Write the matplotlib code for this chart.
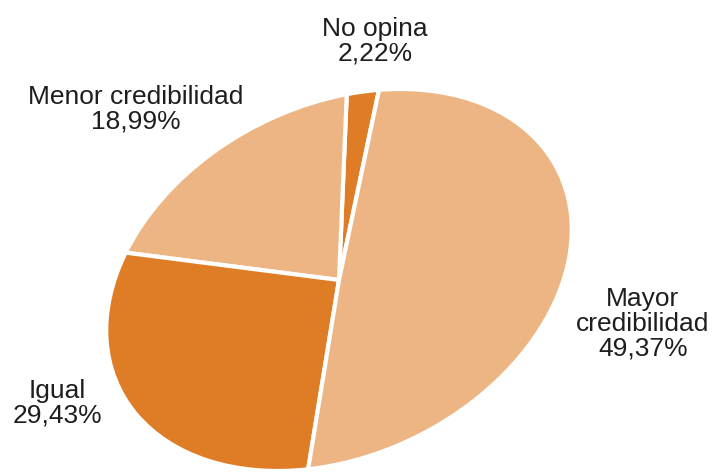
import matplotlib
matplotlib.use('Agg')
import matplotlib.pyplot as plt
from matplotlib.transforms import Affine2D

# Survey answers, counterclockwise from the top
categories = ['No opina', 'Menor credibilidad', 'Igual', 'Mayor\ncredibilidad']
shares = [2.22, 18.99, 29.43, 49.37]
colors = ['#DF7D26', '#ECB583', '#DF7D26', '#ECB583']

W, H = 712, 472

fig = plt.figure(figsize=(W / 100, H / 100), dpi=100)
ax = fig.add_axes([0, 0, 1, 1])

wedges, _ = ax.pie(shares, colors=colors, startangle=60.5, radius=1.0,
                   wedgeprops=dict(edgecolor='white', linewidth=3))

# Squash the round pie into a tilted ellipse, in pixel units
tilt = Affine2D().scale(245, 175).rotate_deg(26.5).translate(339, H - 280)
for w in wedges:
    w.set_transform(tilt + ax.transData)

ax.set_xlim(0, W)
ax.set_ylim(0, H)
ax.set_aspect('auto')
ax.axis('off')

# Label anchors (pixel coords, y measured from top)
label_pos = [(375, 41), (136, 109), (57, 403), (643, 324)]
font = ['Liberation Sans', 'DejaVu Sans']
for name, val, (x, y) in zip(categories, shares, label_pos):
    txt = '{}\n{:.2f}%'.format(name, val).replace('.', ',')
    ax.text(x, H - y, txt, ha='center', va='center', fontsize=19,
            family=font, color='#1e1e1e', linespacing=1.05)

fig.savefig('out.png', dpi=100, facecolor='white')
